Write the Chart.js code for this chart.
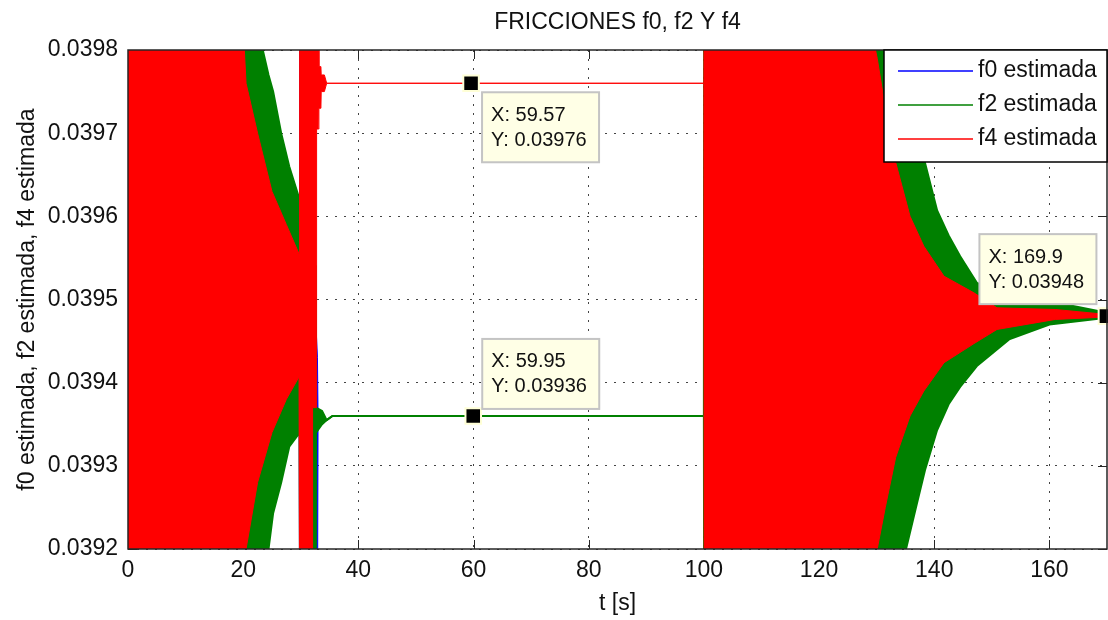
<!DOCTYPE html>
<html>
<head>
<meta charset="utf-8">
<script src="https://cdn.jsdelivr.net/npm/chart.js@4.4.0/dist/chart.umd.min.js"></script>
<style>
  html, body { margin: 0; padding: 0; overflow: hidden; background: #fff; }
  #wrap { width: 1120px; height: 620px; }
</style>
</head>
<body>
<div id="wrap"><canvas id="chart"></canvas></div>
<script>
// ejes
const xTicks = [0, 20, 40, 60, 80, 100, 120, 140, 160];
const yTicks = [0.0392, 0.0393, 0.0394, 0.0395, 0.0396, 0.0397, 0.0398];
const xMax = 170;

const seriesNames = ['f0 estimada', 'f2 estimada', 'f4 estimada'];

// envolventes (max / min); fuera de rango = recortado
const f0T  = [0, 20, 29.7, 29.8, 32.9, 33.0, 33.7, 34.5, 35.5, 100, 100.05, 130, 140, 150, 160, 170];
const f0Hi = [0.0399, 0.0399, 0.0395, 0.0399, 0.03943, 0.03936, 0.039362, 0.039355, 0.03936, 0.03936, 0.0397, 0.0397, 0.03955, 0.0395, 0.039488, 0.03948];
const f0Lo = [0.0391, 0.0391, 0.03942, 0.0391, 0.0391, 0.03935, 0.039355, 0.039355, 0.03936, 0.03936, 0.0393, 0.0393, 0.03941, 0.03946, 0.039476, 0.03948];

const f2T  = [0, 23.4, 24.4, 25.2, 26.6, 28, 29.8, 29.9, 32.6, 32.65, 33.7, 34.5, 35.5, 100, 100.05, 134.5, 135.1, 137, 138.4, 140.5, 142.5, 144.5, 147.4, 153, 160, 170];
const f2Hi = [0.0399, 0.0398, 0.03977, 0.03975, 0.0397, 0.03966, 0.03962, 0.03954, 0.03954, 0.03937, 0.039366, 0.039355, 0.03936, 0.03936, 0.0399, 0.0398, 0.03978, 0.0397, 0.039664, 0.039607, 0.039577, 0.039552, 0.03952, 0.039505, 0.039498, 0.039484];
const f2Lo = [0.0391, 0.0391, 0.0392, 0.039243, 0.03928, 0.039323, 0.03934, 0.0391, 0.0391, 0.03934, 0.03935, 0.039355, 0.03936, 0.03936, 0.0391, 0.0391, 0.0392, 0.039255, 0.039295, 0.039343, 0.039374, 0.039395, 0.03942, 0.039452, 0.03947, 0.039478];

const f4T  = [0, 20.2, 20.5, 22.5, 25, 27.5, 29.7, 29.8, 32.0, 32.05, 32.7, 32.75, 33.1, 33.15, 33.5, 33.55, 34.1, 34.5, 100, 100.05, 129.8, 130.1, 131.5, 133.3, 135.8, 138.2, 141.7, 146.9, 150.9, 161, 170];
const f4Hi = [0.0399, 0.0398, 0.03976, 0.0397, 0.03963, 0.03959, 0.039555, 0.0399, 0.0399, 0.0399, 0.0399, 0.0399, 0.0399, 0.03978, 0.03978, 0.03977, 0.03977, 0.03976, 0.03976, 0.0399, 0.0398, 0.03979, 0.03973, 0.039665, 0.0396, 0.039564, 0.039528, 0.039508, 0.03949, 0.039488, 0.039482];
const f4Lo = [0.0391, 0.0391, 0.0392, 0.03928, 0.03934, 0.03938, 0.039407, 0.0391, 0.0391, 0.03937, 0.03937, 0.039705, 0.039705, 0.03973, 0.03973, 0.03975, 0.03975, 0.03976, 0.03976, 0.0391, 0.0391, 0.0392, 0.03925, 0.03931, 0.03936, 0.03939, 0.039424, 0.039447, 0.039464, 0.039476, 0.039479];

// data cursors
const tipX = [59.57, 59.95, 169.9];
const tipY = [0.03976, 0.03936, 0.03948];

const colors = ['#0000ff', '#008000', '#ff0000'];
const lineWidths = [1, 2, 1];
const FONT = 'Liberation Sans, Arial, Helvetica, sans-serif';

// cada serie = linea min + linea max rellenada hasta la anterior
function band(label, t, hi, lo, color, width, order) {
    const pts = arr => t.map((x, i) => ({ x: x, y: arr[i] }));
    return [
        { label: label, data: pts(lo), borderColor: color, borderWidth: width, pointRadius: 0, fill: false, order: order },
        { label: label, data: pts(hi), borderColor: color, backgroundColor: color, borderWidth: width, pointRadius: 0, fill: '-1', order: order }
    ];
}

// posicion de las cajas respecto al punto (px)
const tipBoxes = [
    { dx: 11, dy: 9 },
    { dx: 9, dy: -77 },
    { dx: -127, dy: -82 }
];

const decor = {
    id: 'decor',
    beforeDatasetsDraw(chart) {
        const { ctx, chartArea: a, scales: { x, y } } = chart;
        ctx.save();
        ctx.strokeStyle = '#262626';
        ctx.lineWidth = 1;
        ctx.beginPath();
        xTicks.forEach(v => {
            const px = Math.round(x.getPixelForValue(v)) + 0.5;
            ctx.moveTo(px, a.bottom); ctx.lineTo(px, a.bottom - 9);
            ctx.moveTo(px, a.top); ctx.lineTo(px, a.top + 9);
        });
        yTicks.forEach(v => {
            const py = Math.round(y.getPixelForValue(v)) + 0.5;
            ctx.moveTo(a.left, py); ctx.lineTo(a.left + 9, py);
            ctx.moveTo(a.right, py); ctx.lineTo(a.right - 9, py);
        });
        ctx.stroke();
        ctx.restore();
    },
    afterDraw(chart) {
        const { ctx, chartArea: a, scales: { x, y } } = chart;
        ctx.save();

        // marco
        ctx.strokeStyle = '#262626';
        ctx.lineWidth = 1.5;
        ctx.strokeRect(a.left, a.top, a.right - a.left, a.bottom - a.top);

        // leyenda
        const lx = 884, ly = a.top, lw = a.right - lx, lh = 112;
        ctx.fillStyle = '#fff';
        ctx.fillRect(lx, ly, lw, lh);
        ctx.strokeStyle = '#000';
        ctx.lineWidth = 1.5;
        ctx.strokeRect(lx, ly, lw, lh);
        ctx.font = '23px ' + FONT;
        ctx.textBaseline = 'middle';
        ctx.textAlign = 'left';
        seriesNames.forEach((name, i) => {
            const yy = ly + 21 + i * 34;
            ctx.strokeStyle = colors[i];
            ctx.lineWidth = 1.5;
            ctx.beginPath();
            ctx.moveTo(lx + 14, yy); ctx.lineTo(lx + 89, yy);
            ctx.stroke();
            ctx.fillStyle = '#111';
            ctx.fillText(name, lx + 94, yy);
        });

        // cajas de data cursor
        ctx.font = '20px ' + FONT;
        tipX.forEach((tx, i) => {
            const px = x.getPixelForValue(tx), py = y.getPixelForValue(tipY[i]);
            const bx = px + tipBoxes[i].dx, by = py + tipBoxes[i].dy;
            ctx.fillStyle = '#ffffe6';
            ctx.fillRect(bx, by, 117, 70);
            ctx.strokeStyle = '#c4c4c4';
            ctx.lineWidth = 2;
            ctx.strokeRect(bx, by, 117, 70);
            ctx.fillStyle = '#111';
            ctx.fillText('X: ' + tx, bx + 9, by + 23);
            ctx.fillText('Y: ' + tipY[i], bx + 9, by + 48);
        });
        ctx.restore();
    }
};

const datasets = [
    ...band(seriesNames[2], f4T, f4Hi, f4Lo, colors[2], lineWidths[2], 0),
    ...band(seriesNames[1], f2T, f2Hi, f2Lo, colors[1], lineWidths[1], 1),
    ...band(seriesNames[0], f0T, f0Hi, f0Lo, colors[0], lineWidths[0], 2),
    {
        label: 'cursor',
        data: tipX.map((v, i) => ({ x: v, y: tipY[i] })),
        showLine: false,
        pointStyle: 'rect',
        pointRadius: 11,
        pointBackgroundColor: '#000',
        pointBorderColor: '#ffffd6',
        pointBorderWidth: 2,
        clip: false,
        order: -1
    }
];

new Chart(document.getElementById('chart'), {
    type: 'line',
    data: { datasets: datasets },
    plugins: [decor],
    options: {
        responsive: true,
        maintainAspectRatio: false,
        animation: false,
        events: [],
        layout: { padding: { left: 0, right: 9, top: 0, bottom: 0 } },
        elements: { line: { tension: 0 } },
        plugins: {
            legend: { display: false },
            tooltip: { enabled: false },
            title: {
                display: true,
                text: 'FRICCIONES f0, f2 Y f4',
                fullSize: false,
                color: '#111',
                font: { family: FONT, size: 23, weight: 'normal' },
                padding: { top: 9, bottom: 13.4 }
            }
        },
        scales: {
            x: {
                type: 'linear',
                min: 0,
                max: xMax,
                afterBuildTicks: s => { s.ticks = xTicks.map(v => ({ value: v })); },
                afterFit: s => { s.height = 71; },
                grid: { color: '#444', lineWidth: 1, drawTicks: false },
                border: { display: false, dash: [2, 7] },
                ticks: { color: '#111', padding: 8, font: { family: FONT, size: 23 }, maxRotation: 0 },
                title: { display: true, text: 't [s]', color: '#111', font: { family: FONT, size: 23 }, padding: { top: 0, bottom: 3 } }
            },
            y: {
                min: 0.0392,
                max: 0.0398,
                afterBuildTicks: s => { s.ticks = yTicks.map(v => ({ value: v })); },
                afterFit: s => { s.width = 128; },
                grid: { color: '#444', lineWidth: 1, drawTicks: false },
                border: { display: false, dash: [2, 7] },
                ticks: { color: '#111', padding: 10, font: { family: FONT, size: 23 }, callback: v => v.toFixed(4) },
                title: { display: true, text: 'f0 estimada, f2 estimada, f4 estimada', color: '#111', font: { family: FONT, size: 23 }, padding: { top: 14, bottom: 0 } }
            }
        }
    }
});
</script>
</body>
</html>
